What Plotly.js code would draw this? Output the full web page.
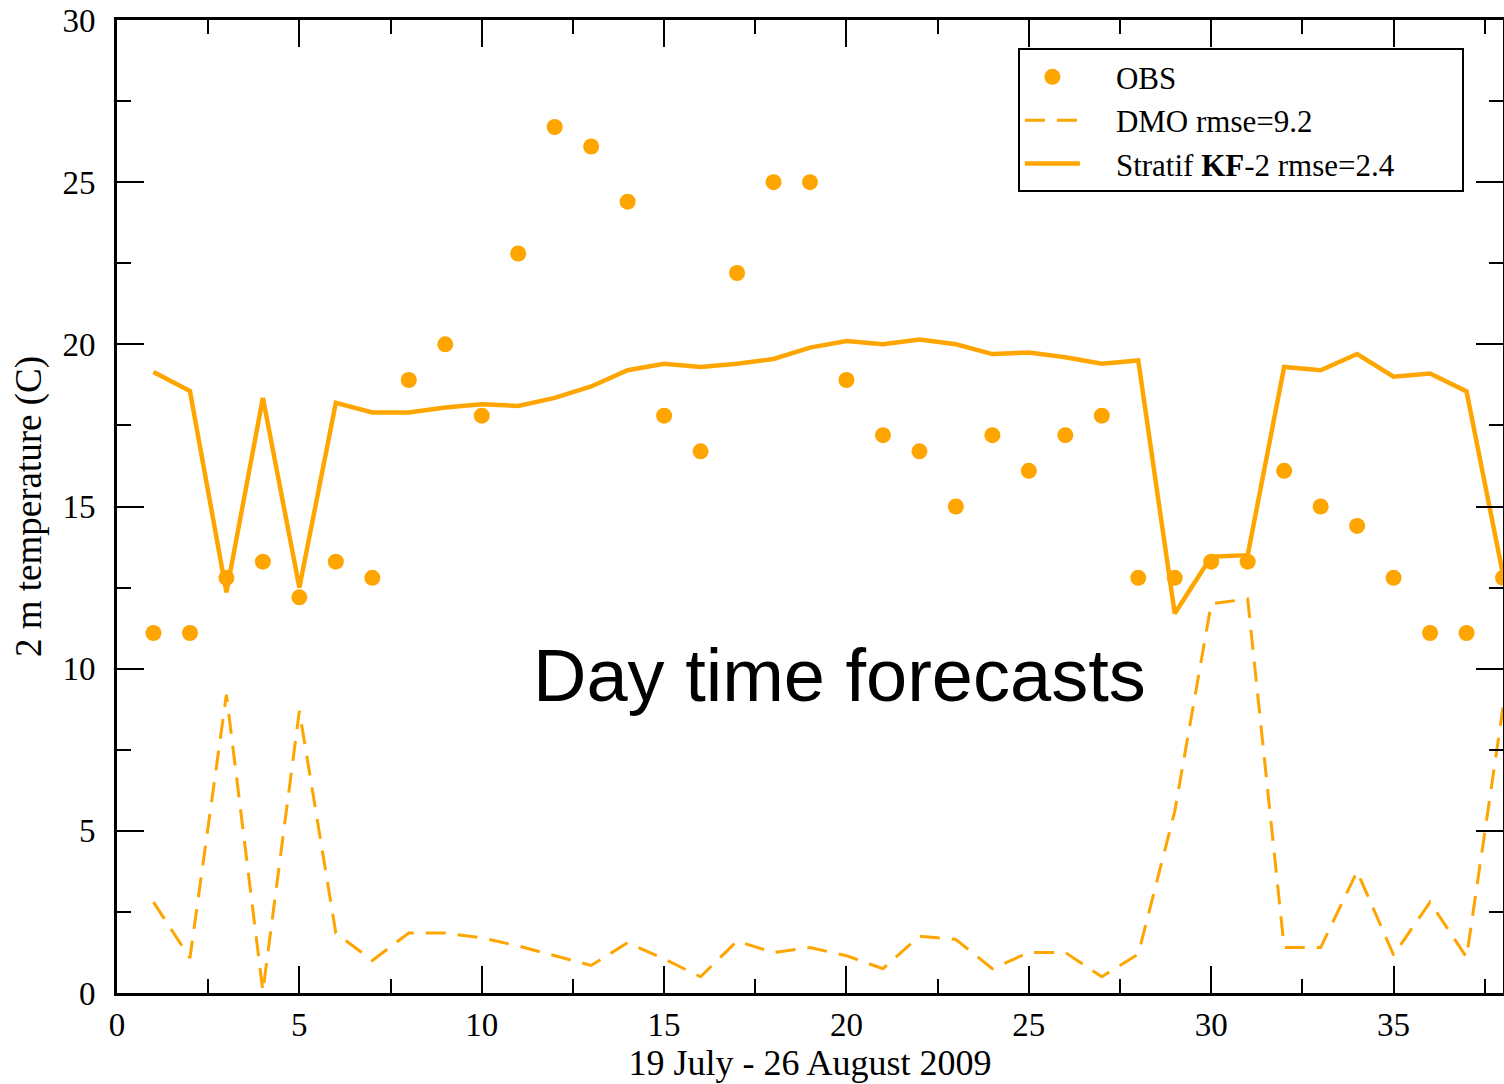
<!DOCTYPE html>
<html>
<head>
<meta charset="utf-8">
<script src="https://cdn.plot.ly/plotly-3.0.1.min.js"></script>
<style>html,body{margin:0;padding:0;background:#fff;}#chart{width:1504px;height:1084px;}</style>
</head>
<body>
<div id="chart"></div>
<script>
const days = [1,2,3,4,5,6,7,8,9,10,11,12,13,14,15,16,17,18,19,20,21,22,23,24,25,26,27,28,29,30,31,32,33,34,35,36,37,38];
const obs = [11.1,11.1,12.8,13.3,12.2,13.3,12.8,18.9,20.0,17.8,22.8,26.7,26.1,24.4,17.8,16.7,22.2,25.0,25.0,18.9,17.2,16.7,15.0,17.2,16.1,17.2,17.8,12.8,12.8,13.3,13.3,16.1,15.0,14.4,12.8,11.1,11.1,12.8];
const dmo = [2.8,1.08,9.2,0.05,8.7,1.85,1.0,1.85,1.85,1.7,1.45,1.15,0.85,1.55,1.05,0.5,1.6,1.25,1.4,1.15,0.75,1.75,1.65,0.75,1.25,1.25,0.5,1.2,5.6,12.0,12.15,1.4,1.4,3.75,1.17,2.8,1.1,8.8];
const kf2 = [19.15,18.56,12.35,18.35,12.5,18.2,17.9,17.9,18.05,18.15,18.1,18.35,18.7,19.2,19.4,19.3,19.4,19.55,19.9,20.1,20.0,20.15,20.0,19.7,19.75,19.6,19.4,19.5,11.7,13.45,13.5,19.3,19.2,19.7,19.0,19.1,18.55,12.9];
const seriesNames = ['OBS', 'DMO rmse=9.2', 'Stratif <b>KF</b>-2 rmse=2.4'];

const orange = '#FFA500';
const serif = 'Liberation Serif, Times New Roman, serif';
const pad = '\u00a0\u00a0\u00a0\u00a0';
const tail = '\u00a0'.repeat(8);

const traces = [
  {x: days, y: obs, name: pad + seriesNames[0], mode: 'markers', type: 'scatter',
   marker: {color: orange, size: 16}},
  {x: days, y: dmo, name: pad + seriesNames[1], mode: 'lines', type: 'scatter',
   line: {color: orange, width: 3, dash: '20px,12px'}},
  {x: days, y: kf2, name: pad + seriesNames[2] + tail, mode: 'lines', type: 'scatter',
   line: {color: orange, width: 4.5}}
];

const axisCommon = {
  showgrid: false, zeroline: false, showline: true, linecolor: '#000', linewidth: 3,
  mirror: 'ticks', ticks: 'inside', ticklen: 27, tickwidth: 2, tickcolor: '#000',
  tickfont: {family: serif, size: 33, color: '#000'},
  minor: {ticks: 'inside', ticklen: 14, tickwidth: 2, tickcolor: '#000', dtick: 2.5, showgrid: false}
};

const layout = {
  width: 1504, height: 1084,
  margin: {l: 117, r: 1, t: 20, b: 91},
  paper_bgcolor: '#fff', plot_bgcolor: '#fff',
  showlegend: true,
  xaxis: Object.assign({}, axisCommon, {
    range: [0, 38], tick0: 0, dtick: 5, ticklabelstandoff: 0,
    title: {text: '19 July - 26 August 2009', font: {family: serif, size: 36, color: '#000'}, standoff: 4}
  }),
  yaxis: Object.assign({}, axisCommon, {
    range: [0, 30], tick0: 0, dtick: 5, ticklabelstandoff: 12,
    title: {text: '2 m temperature (C)', font: {family: serif, size: 37, color: '#000'}, standoff: 10}
  }),
  legend: {
    x: 0.650, y: 0.971, xanchor: 'left', yanchor: 'top',
    bgcolor: '#fff', bordercolor: '#000', borderwidth: 2,
    font: {family: serif, size: 31, color: '#000'},
    itemwidth: 55, tracegroupgap: 0
  },
  annotations: [{
    x: 19.8, y: 9.8, xref: 'x', yref: 'y', showarrow: false,
    text: 'Day time forecasts',
    font: {family: 'Liberation Sans, Arial, sans-serif', size: 74, color: '#000'}
  }]
};

Plotly.newPlot('chart', traces, layout, {displayModeBar: false, staticPlot: true});
</script>
</body>
</html>
